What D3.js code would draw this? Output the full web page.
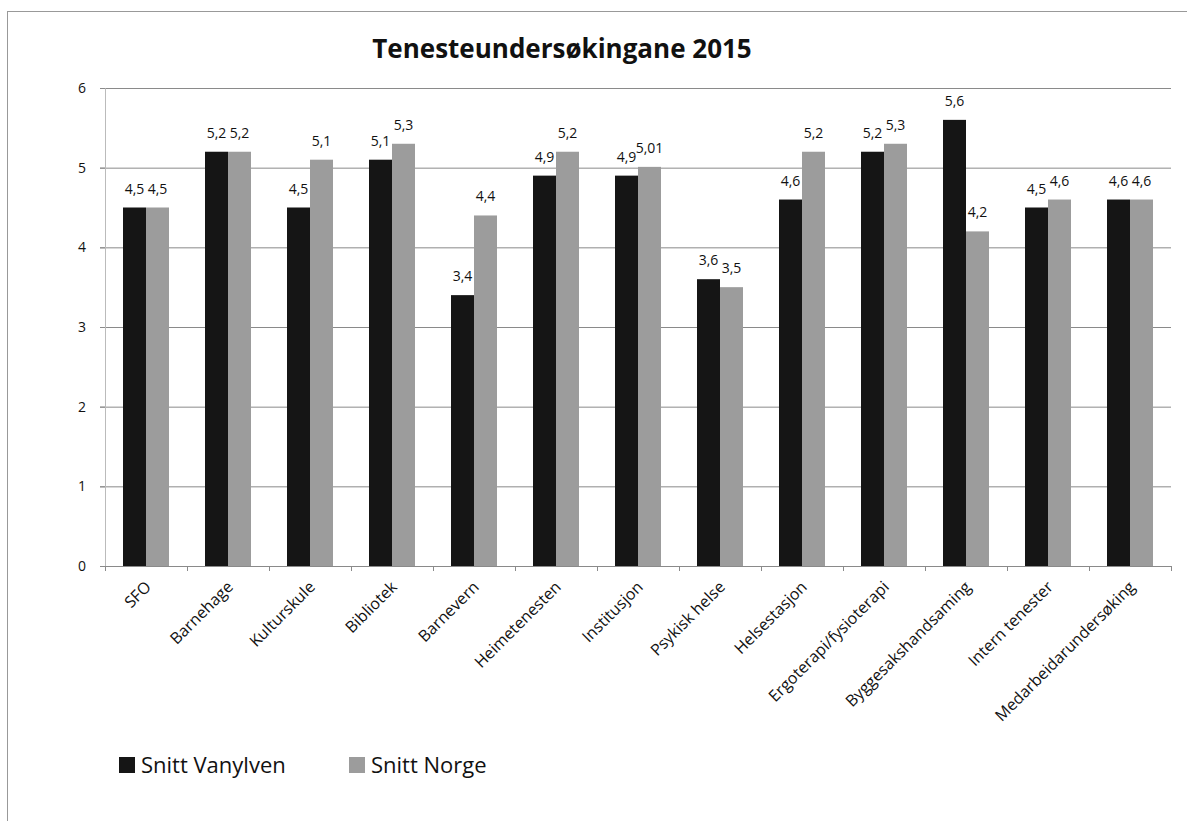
<!DOCTYPE html>
<html>
<head>
<meta charset="utf-8">
<script src="https://cdn.jsdelivr.net/npm/d3@7"></script>
<style>
  body { margin: 0; background: #fff; }
  text { font-family: "Open Sans", Lato, sans-serif; }
</style>
</head>
<body>
<div id="chart"></div>
<script>
var categories = ["SFO", "Barnehage", "Kulturskule", "Bibliotek", "Barnevern", "Heimetenesten",
  "Institusjon", "Psykisk helse", "Helsestasjon", "Ergoterapi/fysioterapi",
  "Byggesakshandsaming", "Intern tenester", "Medarbeidarundersøking"];
var seriesNames = ["Snitt Vanylven", "Snitt Norge"];
var vanylven = [4.5, 5.2, 4.5, 5.1, 3.4, 4.9, 4.9, 3.6, 4.6, 5.2, 5.6, 4.5, 4.6];
var norge = [4.5, 5.2, 5.1, 5.3, 4.4, 5.2, 5.01, 3.5, 5.2, 5.3, 4.2, 4.6, 4.6];
var yTicks = [0, 1, 2, 3, 4, 5, 6];
var colors = ["#151515", "#9c9c9c"];

var width = 1187, height = 821;
var plotLeft = 105, plotRight = 1171, plotTop = 88, plotBottom = 566;

var svg = d3.select("#chart").append("svg")
  .attr("width", width)
  .attr("height", height);

// outer frame
svg.append("rect")
  .attr("x", 7.5).attr("y", 11.5)
  .attr("width", 1200).attr("height", 900)
  .attr("fill", "none").attr("stroke", "#999");

var x0 = d3.scaleBand().domain(categories).range([plotLeft, plotRight]).padding(0);
var x1 = d3.scaleBand().domain(seriesNames).range([18, x0.bandwidth() - 18]).padding(0);
var y = d3.scaleLinear().domain([0, 6]).range([plotBottom, plotTop]);

// title
svg.append("text")
  .attr("x", 562).attr("y", 58)
  .attr("text-anchor", "middle")
  .attr("font-size", 26).attr("font-weight", "bold")
  .attr("fill", "#111")
  .text("Tenesteundersøkingane 2015");

// gridlines
svg.append("g")
  .selectAll("line")
  .data(yTicks.filter(d => d > 0))
  .enter().append("line")
  .attr("x1", plotLeft - 5).attr("x2", plotRight)
  .attr("y1", d => y(d) + 0.5).attr("y2", d => y(d) + 0.5)
  .attr("stroke", "#8a8a8a").attr("stroke-width", 1);

// y axis
var yAxis = svg.append("g")
  .attr("transform", `translate(${plotLeft},0)`)
  .call(d3.axisLeft(y).tickValues(yTicks).tickFormat(d3.format("d")).tickSize(5).tickPadding(14));
yAxis.select(".domain").attr("stroke", "#bbb");
yAxis.selectAll(".tick line").attr("stroke", "#8a8a8a");
yAxis.selectAll("text").attr("font-size", 14).attr("fill", "#111")
  .style("font-family", "'Open Sans', sans-serif");

// bars
var data = categories.map((c, i) => ({ cat: c, vals: [vanylven[i], norge[i]] }));
var groups = svg.append("g").selectAll("g")
  .data(data)
  .enter().append("g")
  .attr("transform", d => `translate(${x0(d.cat)},0)`);

groups.selectAll("rect")
  .data(d => d.vals.map((v, j) => ({ s: seriesNames[j], v: v, j: j })))
  .enter().append("rect")
  .attr("x", d => x1(d.s))
  .attr("y", d => y(d.v))
  .attr("width", x1.bandwidth())
  .attr("height", d => plotBottom - y(d.v))
  .attr("fill", d => colors[d.j]);

groups.selectAll("text")
  .data(d => d.vals.map((v, j) => ({ s: seriesNames[j], v: v })))
  .enter().append("text")
  .attr("x", d => x1(d.s) + x1.bandwidth() / 2)
  .attr("y", d => y(d.v) - 14)
  .attr("text-anchor", "middle")
  .attr("font-size", 14)
  .attr("fill", "#111")
  .text(d => String(d.v).replace(".", ","));

// x axis
var xAxis = svg.append("g")
  .attr("transform", `translate(0,${plotBottom})`);
xAxis.append("line")
  .attr("x1", plotLeft).attr("x2", plotRight)
  .attr("y1", 0.5).attr("y2", 0.5)
  .attr("stroke", "#8a8a8a");
xAxis.selectAll(".tk")
  .data(categories.concat(["end"]))
  .enter().append("line")
  .attr("x1", (d, i) => plotLeft + i * x0.bandwidth() + 0.5)
  .attr("x2", (d, i) => plotLeft + i * x0.bandwidth() + 0.5)
  .attr("y1", 0).attr("y2", 5)
  .attr("stroke", "#8a8a8a");
xAxis.selectAll(".lbl")
  .data(categories)
  .enter().append("text")
  .attr("transform", d => `translate(${x0(d) + x0.bandwidth() / 2 + 6},${22}) rotate(-45)`)
  .attr("text-anchor", "end")
  .attr("font-size", 16)
  .attr("fill", "#111")
  .text(d => d);

// legend
var legend = svg.append("g").attr("transform", "translate(119,757)");
var lx = [0, 230];
seriesNames.forEach((s, i) => {
  legend.append("rect")
    .attr("x", lx[i]).attr("y", 0)
    .attr("width", 16).attr("height", 16)
    .attr("fill", colors[i]);
  legend.append("text")
    .attr("x", lx[i] + 22).attr("y", 16)
    .attr("font-size", 22)
    .attr("fill", "#111")
    .text(s);
});
</script>
</body>
</html>
